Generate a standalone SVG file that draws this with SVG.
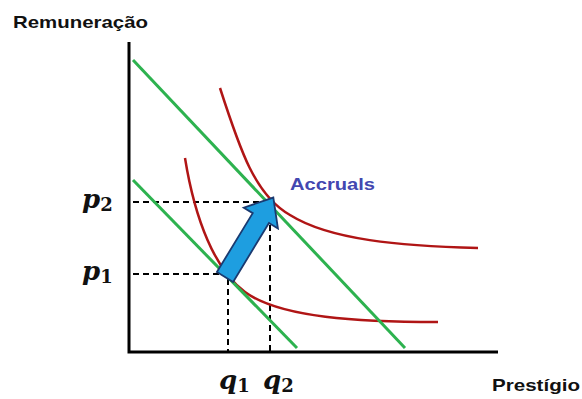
<svg xmlns="http://www.w3.org/2000/svg" width="582" height="399" viewBox="0 0 582 399">
<style>
.lbl{font-family:"Liberation Sans",Arial,sans-serif;font-weight:bold;font-size:17px;fill:#111}
.acc{font-family:"Liberation Sans",Arial,sans-serif;font-weight:bold;font-size:17px;fill:#4347b0}
.math{font-family:"DejaVu Serif","Liberation Serif",serif;font-style:italic;font-weight:bold;font-size:26px;fill:#111}
.sub{font-family:"DejaVu Serif","Liberation Serif",serif;font-style:normal;font-weight:bold;font-size:18px;fill:#111}
.axis{stroke:#000;stroke-width:3;fill:none}
.dash{stroke:#000;stroke-width:2;stroke-dasharray:6 4;fill:none}
.budget{stroke:#2db24f;stroke-width:3;fill:none}
.indiff{stroke:#b01515;stroke-width:2.5;fill:none}
</style>
<rect width="582" height="399" fill="#fff"/>
<g id="axes">
<path class="axis" d="M129,42 V352 H498"/>
</g>
<g id="connectors">
<path class="dash" d="M133,202 H270 V352"/>
<path class="dash" d="M133,274 H228 V352"/>
</g>
<g id="indifference-curves">
<path class="indiff" d="M220,88 C240,150 255,195 290,215 C330,240 400,246 478,248"/>
<path class="indiff" d="M185,158 C195,220 215,270 245,292 C280,318 360,322 438,322"/>
</g>
<g id="budget-lines">
<path class="budget" d="M133,60 L405,348"/>
<path class="budget" d="M133,180 L297,348"/>
</g>
<g id="arrow">
<polygon transform="translate(225,277) rotate(-58.7)" points="0,-9.5 69,-9.5 69,-20 93,0 69,20 69,9.5 0,9.5" fill="#1e9ee0" stroke="#1a3a70" stroke-width="1.8"/>
</g>
<g id="labels">
<text class="lbl" x="13" y="28" textLength="135" lengthAdjust="spacingAndGlyphs">Remuneração</text>
<text class="lbl" x="492" y="391" textLength="88" lengthAdjust="spacingAndGlyphs">Prestígio</text>
<text class="acc" x="290" y="190" textLength="85" lengthAdjust="spacingAndGlyphs">Accruals</text>
<text class="math" x="82" y="208">p<tspan class="sub" dy="3">2</tspan></text>
<text class="math" x="82" y="280">p<tspan class="sub" dy="3">1</tspan></text>
<text class="math" x="219" y="389">q<tspan class="sub" dy="3">1</tspan></text>
<text class="math" x="263" y="389">q<tspan class="sub" dy="3">2</tspan></text>
</g>
</svg>
